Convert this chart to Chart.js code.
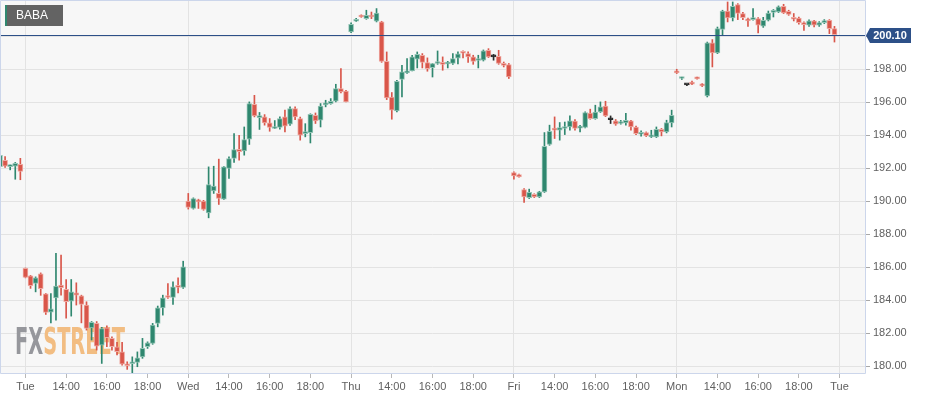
<!DOCTYPE html>
<html><head><meta charset="utf-8">
<script src="https://cdn.jsdelivr.net/npm/chart.js@4.4.1/dist/chart.umd.min.js"></script>
<style>html,body{margin:0;padding:0;background:#fff;overflow:hidden}#wrap{width:930px;height:399px}</style>
</head><body><div id="wrap"><canvas id="c" width="930" height="399"></canvas></div>
<script>
// ---- DATA ----
const symbol = 'BABA';
const sessions = ['Mon', 'Tue', 'Wed', 'Thu', 'Fri', 'Mon', 'Tue'];
const yTicks = [180, 182, 184, 186, 188, 190, 192, 194, 196, 198, 200];

// 15-minute candles, from Mon 18:45 to Mon 19:45 (session 12:00-19:45)
const open = [
  192.10, 192.48, 192.10, 192.12, 192.24,
  185.92, 185.47, 185.01, 185.60, 184.38, 183.27, 184.14, 184.91, 184.65, 183.94, 184.44, 184.26, 183.70, 182.32, 182.59, 181.27,
  182.32, 181.68, 181.17, 180.87, 180.10, 180.14, 180.22, 180.56, 181.17, 181.38, 182.59, 183.53, 184.26, 184.16, 184.85, 184.77,
  190.00, 189.56, 190.06, 190.00, 189.29, 190.62, 190.47, 190.12, 191.98, 192.59, 193.15, 193.05, 193.76, 195.88, 195.07, 195.11,
  194.75, 194.41, 194.47, 195.11, 194.67, 195.62, 195.01, 194.10, 194.16, 195.21, 194.91, 195.84, 195.92, 196.06, 196.83, 196.67,
  200.26, 200.91, 201.27, 201.07, 201.27, 200.91, 200.87, 198.48, 196.32, 195.47, 197.38, 197.78, 197.90, 198.61, 198.85, 198.41,
  198.10, 198.35, 198.38, 198.32, 198.35, 198.67, 199.05, 198.95, 198.75, 198.53, 198.55, 199.15, 198.75, 198.79, 198.35, 198.28,
  191.74, 191.62, 190.71, 190.22, 190.42, 190.26, 190.56, 193.44, 194.40, 194.30, 194.41, 194.50, 194.85, 194.43, 194.47, 195.35,
  195.01, 195.41, 195.76, 194.94, 194.87, 194.71, 194.75, 194.87, 194.50, 194.06, 194.16, 193.90, 193.90, 194.35, 194.20, 194.75,
  197.90, 197.44, 197.05, 197.20, 197.50, 197.09, 196.38, 199.60, 198.99, 200.42, 201.53, 201.11, 201.92, 201.38, 201.01, 201.01,
  201.07, 200.62, 200.97, 201.45, 201.47, 201.82, 201.52, 201.11, 201.11, 200.81, 200.67, 200.93, 200.67, 200.83, 200.97, 200.46
];
const high = [
  192.82, 192.70, 192.20, 192.35, 192.60,
  185.95, 185.50, 185.41, 185.65, 184.40, 184.40, 186.83, 186.73, 185.25, 185.25, 185.05, 184.30, 183.90, 182.70, 182.70, 182.35,
  182.44, 181.78, 181.44, 181.44, 180.26, 180.56, 180.86, 181.68, 181.47, 182.59, 183.64, 184.30, 185.01, 185.11, 185.35, 186.36,
  190.47, 190.20, 190.12, 190.05, 192.08, 192.12, 192.55, 192.10, 192.69, 194.10, 194.00, 194.50, 196.02, 196.42, 195.38, 195.25,
  195.01, 194.89, 195.11, 195.52, 195.72, 195.72, 195.10, 194.70, 195.30, 195.35, 195.92, 196.12, 196.22, 197.09, 198.04, 196.72,
  200.81, 201.09, 201.30, 201.58, 201.47, 201.68, 200.91, 199.05, 196.59, 197.33, 198.24, 198.65, 198.85, 199.05, 198.95, 198.69,
  198.35, 199.11, 198.75, 198.48, 198.95, 199.05, 199.11, 199.05, 198.85, 198.85, 199.17, 199.25, 198.90, 199.15, 198.44, 198.35,
  191.78, 191.65, 190.77, 190.73, 190.45, 190.60, 194.16, 194.61, 195.11, 194.77, 194.80, 195.17, 194.95, 194.60, 195.42, 195.58,
  195.82, 196.02, 196.06, 195.17, 194.95, 194.90, 195.32, 194.91, 194.55, 194.26, 194.20, 194.30, 194.50, 194.41, 194.91, 195.52,
  198.00, 197.52, 197.10, 197.28, 197.52, 197.13, 199.65, 199.80, 200.56, 201.58, 202.08, 202.08, 201.98, 201.45, 201.11, 201.68,
  201.13, 201.15, 201.53, 201.62, 201.84, 201.94, 201.58, 201.38, 201.17, 200.87, 201.00, 200.97, 200.89, 201.01, 201.01, 200.60
];
const low = [
  192.05, 192.05, 191.90, 191.33, 191.30,
  185.35, 184.71, 184.50, 184.29, 183.13, 182.62, 182.79, 184.30, 182.90, 183.03, 183.70, 182.62, 182.18, 181.58, 180.97, 180.16,
  181.17, 180.97, 180.67, 180.06, 179.80, 179.60, 179.96, 180.47, 181.07, 181.32, 182.38, 183.09, 184.10, 183.74, 184.44, 184.71,
  189.52, 189.52, 189.56, 189.45, 188.99, 190.47, 189.80, 190.10, 191.38, 192.35, 192.48, 192.79, 193.44, 195.11, 194.35, 194.61,
  194.24, 194.40, 194.36, 194.20, 194.60, 194.95, 193.70, 193.90, 193.53, 194.71, 194.50, 195.72, 195.88, 196.02, 196.56, 196.02,
  200.22, 200.90, 201.15, 201.03, 201.07, 200.87, 198.42, 196.16, 194.97, 195.41, 196.32, 197.74, 197.90, 198.08, 198.08, 197.88,
  197.53, 198.30, 197.94, 198.08, 198.30, 198.33, 198.69, 198.41, 198.30, 198.08, 198.50, 198.71, 198.55, 198.30, 198.14, 197.44,
  191.33, 191.45, 189.92, 190.16, 190.22, 190.22, 190.53, 193.39, 193.80, 193.70, 194.04, 194.30, 194.30, 194.20, 194.44, 194.97,
  194.97, 195.38, 195.13, 194.71, 194.60, 194.67, 194.61, 194.30, 194.04, 193.94, 193.92, 193.86, 193.86, 193.96, 194.14, 194.50,
  197.74, 197.38, 197.00, 197.07, 197.40, 196.95, 196.32, 198.14, 198.95, 200.06, 200.87, 200.93, 201.01, 201.01, 200.60, 200.97,
  200.20, 200.54, 200.93, 201.17, 201.44, 201.38, 201.27, 200.93, 200.73, 200.36, 200.60, 200.56, 200.60, 200.77, 200.16, 199.65
];
const close = [
  192.78, 192.12, 192.15, 192.30, 191.80,
  185.38, 184.87, 185.35, 184.69, 183.25, 183.47, 184.85, 184.75, 183.90, 184.50, 184.30, 183.74, 182.28, 182.65, 181.21, 182.28,
  181.72, 181.17, 180.87, 180.12, 180.02, 180.26, 180.50, 181.07, 181.41, 182.48, 183.53, 184.14, 184.16, 184.80, 184.77, 186.02,
  189.62, 190.16, 189.96, 189.50, 191.01, 190.91, 190.16, 192.08, 192.59, 193.13, 193.00, 193.74, 195.92, 195.17, 195.17, 194.75,
  194.48, 194.50, 195.01, 194.55, 195.62, 195.11, 194.00, 194.20, 195.27, 194.87, 195.76, 195.96, 196.06, 196.83, 196.62, 196.02,
  200.73, 201.03, 201.17, 201.27, 201.17, 201.41, 198.48, 196.26, 195.52, 197.27, 197.84, 197.88, 198.75, 198.91, 198.41, 198.04,
  198.35, 198.44, 198.30, 198.40, 198.65, 198.93, 198.97, 198.75, 198.48, 198.60, 199.11, 198.75, 198.75, 198.35, 198.24, 197.53,
  191.53, 191.47, 190.26, 190.53, 190.26, 190.57, 193.33, 194.24, 194.31, 194.47, 194.50, 194.87, 194.41, 194.50, 195.38, 195.01,
  195.41, 195.72, 195.17, 194.94, 194.67, 194.80, 194.91, 194.50, 194.10, 194.16, 193.96, 194.00, 194.35, 194.20, 194.77, 195.21,
  197.78, 197.50, 197.05, 197.10, 197.42, 196.99, 199.60, 198.99, 200.46, 201.53, 201.11, 201.82, 201.38, 201.13, 200.93, 201.07,
  200.67, 200.97, 201.41, 201.52, 201.78, 201.41, 201.33, 201.03, 200.83, 200.71, 200.93, 200.67, 200.83, 200.93, 200.46, 200.10
];

// ---- CATEGORY LABELS (15-minute slots of each session) ----
const allSlots = [];
sessions.forEach(d => {
  for (let k = 0; k < 32; k++) {
    const h = 12 + Math.floor(k / 4), m = (k % 4) * 15;
    allSlots.push(d + ' ' + String(h).padStart(2, '0') + ':' + String(m).padStart(2, '0'));
  }
});
const labels = allSlots.slice(27, 27 + 171); // Mon 18:45 ... Tue 13:15

function parseLbl(s) { const [d, t] = s.split(' '); const [h, m] = t.split(':').map(Number); return { d, h, m }; }
function isTickLbl(s) { const p = parseLbl(s); return p.m === 0 && p.h % 2 === 0; }
function tickText(s) { const p = parseLbl(s); return p.h === 12 ? p.d : String(p.h).padStart(2, '0') + ':00'; }
function isDay(s) { const p = parseLbl(s); return p.h === 12 && p.m === 0; }

// ---- STYLE ----
const UP = '#2f876f', DOWN = '#d9564a', UP_EDGE = '#93c4b5', DOWN_EDGE = '#eea9a1', FLAT = '#2b2b2b';
const NAVY = '#2d5088';
const kind = close.map((c, i) => c > open[i] ? 1 : (c < open[i] ? -1 : 0));
const fillCol = kind.map(k => k > 0 ? UP : (k < 0 ? DOWN : FLAT));
const edgeCol = kind.map(k => k > 0 ? UP_EDGE : (k < 0 ? DOWN_EDGE : FLAT));
const FONT = '"Liberation Sans", Arial, sans-serif';

const decor = {
  id: 'decor',
  beforeDraw(chart) {
    const { ctx, chartArea: a } = chart;
    ctx.save();
    ctx.fillStyle = '#fff'; ctx.fillRect(0, 0, chart.width, chart.height);
    ctx.fillStyle = '#f7f7f7'; ctx.fillRect(a.left, a.top, a.right - a.left, a.bottom - a.top);
    ctx.restore();
  },
  beforeDatasetsDraw(chart) {
    const { ctx, chartArea: a } = chart;
    ctx.save();
    ctx.font = 'bold 37px "DejaVu Sans Condensed", "DejaVu Sans", sans-serif';
    ctx.textBaseline = 'alphabetic';
    const wFX = ctx.measureText('FX').width, wAll = ctx.measureText('FXSTREET').width;
    ctx.translate(a.left + 15, a.bottom - 19);
    ctx.scale(110 / wAll, 1);
    ctx.fillStyle = '#96979c'; ctx.fillText('FX', 0, 0);
    ctx.fillStyle = '#f2bd82'; ctx.fillText('STREET', wFX, 0);
    ctx.restore();
  },
  afterDatasetsDraw(chart) {
    const { ctx, chartArea: a } = chart;
    const y = Math.round(chart.scales.y.getPixelForValue(close[close.length - 1])) + 0.5;
    ctx.save();
    ctx.strokeStyle = NAVY; ctx.lineWidth = 1.2;
    ctx.beginPath(); ctx.moveTo(a.left, y); ctx.lineTo(a.right, y); ctx.stroke();
    ctx.restore();
  },
  afterDraw(chart) {
    const { ctx, chartArea: a } = chart;
    ctx.save();
    // plot border
    ctx.strokeStyle = '#ccd6eb'; ctx.lineWidth = 1;
    ctx.beginPath();
    ctx.moveTo(a.left + 0.5, a.bottom + 0.5); ctx.lineTo(a.left + 0.5, a.top + 0.5);
    ctx.lineTo(a.right + 0.5, a.top + 0.5); ctx.lineTo(a.right + 0.5, a.bottom + 0.5);
    ctx.lineTo(a.left + 0.5, a.bottom + 0.5);
    ctx.stroke();
    // last price label
    const last = close[close.length - 1];
    const y = Math.round(chart.scales.y.getPixelForValue(last)) + 0.5;
    ctx.fillStyle = NAVY;
    ctx.beginPath();
    ctx.moveTo(a.right + 1, y); ctx.lineTo(a.right + 5, y - 7.5); ctx.lineTo(911, y - 7.5);
    ctx.lineTo(911, y + 7.5); ctx.lineTo(a.right + 5, y + 7.5); ctx.closePath(); ctx.fill();
    ctx.fillStyle = '#fff'; ctx.font = 'bold 11px ' + FONT;
    ctx.textAlign = 'center'; ctx.textBaseline = 'middle';
    ctx.fillText(last.toFixed(2), 890, y + 0.5);
    // symbol badge
    ctx.fillStyle = '#636363'; ctx.fillRect(5, 5, 58, 21);
    ctx.fillStyle = UP; ctx.fillRect(5, 5, 2, 21);
    ctx.fillStyle = '#fff'; ctx.font = '12px ' + FONT; ctx.textAlign = 'left';
    ctx.fillText(symbol, 16, 16);
    ctx.restore();
  }
};

new Chart(document.getElementById('c'), {
  type: 'bar',
  data: {
    labels,
    datasets: [
      { label: 'body', data: open.map((o, i) => [o, close[i]]), backgroundColor: fillCol, borderColor: edgeCol,
        borderWidth: 1, borderSkipped: false, barThickness: 5, minBarLength: 2, grouped: false },
      { label: 'wick', data: low.map((l, i) => [l, high[i]]), backgroundColor: fillCol, borderWidth: 0,
        barThickness: 1, grouped: false }
    ]
  },
  options: {
    responsive: false, animation: false, events: [],
    layout: { padding: 0 },
    plugins: { legend: { display: false }, tooltip: { enabled: false } },
    scales: {
      x: {
        type: 'category', offset: false,
        afterBuildTicks: s => { s.ticks = s.ticks.filter(t => isTickLbl(labels[t.value])); },
        afterFit: s => { s.height = 26; s.paddingLeft = 0; s.paddingRight = 0; },
        grid: {
          offset: false, tickLength: 5, drawTicks: true,
          color: c => (c.tick && isDay(labels[c.tick.value])) ? '#e3e3e3' : 'rgba(0,0,0,0)',
          tickColor: '#b8b8b8'
        },
        border: { display: false },
        ticks: { autoSkip: false, maxRotation: 0, padding: 2, color: '#606060',
          font: { family: FONT, size: 11 }, callback: v => tickText(labels[v]) }
      },
      y: {
        position: 'right', min: 179.58, max: 202.2,
        afterBuildTicks: s => { s.ticks = yTicks.map(v => ({ value: v })); },
        afterFit: s => { s.width = 65; s.paddingTop = 0; s.paddingBottom = 0; },
        grid: { color: '#e3e3e3', tickColor: '#a8a8a8', tickLength: 5, drawTicks: true },
        border: { display: false },
        ticks: { padding: 3, color: '#606060', font: { family: FONT, size: 11 }, callback: v => Number(v).toFixed(2) }
      }
    }
  },
  plugins: [decor]
});
</script></body></html>
